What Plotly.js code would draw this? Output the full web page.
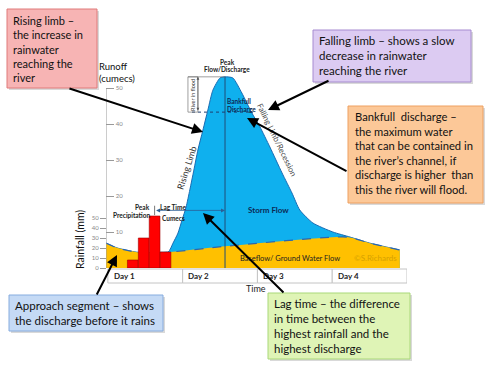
<!DOCTYPE html>
<html><head><meta charset="utf-8">
<script src="https://cdn.plot.ly/plotly-3.0.1.min.js"></script>
<style>html,body{margin:0;padding:0;background:#fff;}#chart{width:500px;height:375px;}</style>
</head><body><div id="chart"></div>
<script>
// ---- data ----
const hydroHours = [-0.6, 2.9, 9.3, 19.3, 20.9, 22.5, 23.8, 25.1, 26.3, 27.6, 28.9, 30.5, 32.1, 33.7, 36.0, 37.6, 40.1, 43.0, 46.2, 48.8, 52.0, 55.9, 59.1, 61.6, 65.8, 72.2, 77.7, 84.1, 93.7];
const discharge  = [6.9, 5.6, 4.4, 4.4, 6.9, 9.7, 13.3, 16.9, 21.7, 27.2, 32.8, 38.3, 43.9, 49.4, 52.8, 53.1, 52.8, 48.6, 43.1, 39.2, 33.6, 26.4, 20.8, 16.1, 12.5, 10.0, 8.6, 6.9, 5.0];
const baseHours  = [-0.6, 2.9, 9.3, 19.3, 38.5, 76.7, 84.1, 93.7];
const baseflow   = [6.9, 5.6, 4.4, 4.4, 6.1, 8.6, 6.9, 5.0];
const rainHours  = [8.0, 11.5, 15.0, 18.5];
const rainfall   = [8, 30, 52, 16];
const runoffTicks = [10, 20, 30, 40, 50];
const rainTicks   = [0, 10, 20, 30, 40, 50];
const dayLabels   = ['Day 1', 'Day 2', 'Day 3', 'Day 4'];
const dayStarts   = [0, 24, 48, 72, 96];
const bankfull    = 43.3;
const lagLevel    = 16;

// ---- helpers ----
const F = 'Lato, sans-serif';
const L = 106, R = 407, T = 66, B = 268;
const px = X => (X - L) / (R - L);
const py = Y => (B - Y) / (B - T);
const peakIdx = discharge.indexOf(Math.max(...discharge));
const peakHour = hydroHours[peakIdx], peakQ = discharge[peakIdx];
const rainPeakHour = rainHours[rainfall.indexOf(Math.max(...rainfall))];

const shapes = [], annotations = [];
function txt(s, X, Y, o) {
  o = o || {};
  annotations.push(Object.assign({text: s, x: px(X), y: py(Y), xref: 'paper', yref: 'paper',
    showarrow: false, xanchor: 'center', yanchor: 'middle',
    font: {family: F, size: o.size || 7, color: o.color || '#222', weight: o.weight || 'normal'}}, o.extra || {}));
}
function box(x0, y0, x1, y1, fill, border, lines, tx, ty, size) {
  shapes.push({type: 'rect', xref: 'paper', yref: 'paper', x0: px(x0 + 2), x1: px(x1 + 2), y0: py(y1 + 2), y1: py(y0 + 2),
    fillcolor: 'rgba(0,0,0,0.15)', line: {width: 0}});
  shapes.push({type: 'rect', xref: 'paper', yref: 'paper', x0: px(x0), x1: px(x1), y0: py(y1), y1: py(y0),
    fillcolor: fill, line: {color: border, width: 1}});
  txt(lines.join('<br>'), tx, ty, {size: size, color: '#111', extra: {xanchor: 'left', yanchor: 'top', align: 'left', borderpad: 0}});
}
function arrow(tx, ty, fx, fy) {
  annotations.push({text: '', x: px(tx), y: py(ty), xref: 'paper', yref: 'paper', showarrow: true,
    ax: fx - tx, ay: fy - ty, arrowhead: 2, arrowsize: 1.1, arrowwidth: 2, arrowcolor: '#000'});
}

// ---- chart marks ----
const traces = [
  {x: hydroHours, y: discharge, type: 'scatter', mode: 'lines', fill: 'tozeroy', fillcolor: '#0fb0ee',
   line: {color: '#1a6cb3', width: 1, shape: 'spline', smoothing: 0.6}, hoverinfo: 'skip'},
  {x: baseHours, y: baseflow, type: 'scatter', mode: 'lines', fill: 'tozeroy', fillcolor: '#ffc000',
   line: {color: '#2a66b0', width: 1.2, dash: 'dash', shape: 'spline', smoothing: 0.6}, hoverinfo: 'skip'},
  {x: rainHours, y: rainfall, type: 'bar', yaxis: 'y2', width: 3.45,
   marker: {color: '#ff0000', line: {color: '#a00000', width: 0.6}}, hoverinfo: 'skip'}
];

// runoff axis line
shapes.push({type: 'line', xref: 'x', yref: 'y', x0: -0.6, x1: -0.6, y0: 0, y1: 50, line: {color: '#999', width: 1}});
// peak vertical line
shapes.push({type: 'line', xref: 'x', yref: 'y', x0: peakHour, x1: peakHour, y0: 0, y1: peakQ, line: {color: '#1f4e79', width: 1}});
// bankfull dashed line
shapes.push({type: 'line', xref: 'x', yref: 'y', x0: 27.0, x1: 46.6, y0: bankfull, y1: bankfull, line: {color: '#1f3f6f', width: 1, dash: 'dot'}});
// river in flood bracket
shapes.push({type: 'rect', xref: 'x', yref: 'y', x0: 25.7, x1: 28.9, y0: bankfull, y1: peakQ, line: {color: '#777', width: 0.7}});
shapes.push({type: 'line', xref: 'x', yref: 'y', x0: 25.7, x1: peakHour, y0: peakQ, y1: peakQ, line: {color: '#777', width: 0.7}});
// lag time start tick
shapes.push({type: 'line', xref: 'x', yref: 'y', x0: rainPeakHour, x1: rainPeakHour, y0: lagLevel - 1.3, y1: lagLevel + 1.3, line: {color: '#555', width: 0.8}});
// day boxes
for (let i = 0; i < dayLabels.length; i++) {
  shapes.push({type: 'rect', xref: 'x', yref: 'paper', x0: dayStarts[i], x1: dayStarts[i + 1], y0: py(283), y1: py(269),
    fillcolor: '#fff', line: {color: '#c4c4c4', width: 1}});
  annotations.push({text: dayLabels[i], x: dayStarts[i] + 1.2, y: py(276), xref: 'x', yref: 'paper', showarrow: false,
    xanchor: 'left', yanchor: 'middle', font: {family: F, size: 8, color: '#222', weight: 'bold'}});
}

// lag time double arrow
annotations.push({text: '', x: peakHour, y: lagLevel, xref: 'x', yref: 'y', ax: rainPeakHour, ay: lagLevel, axref: 'x', ayref: 'y',
  showarrow: true, arrowside: 'end+start', arrowhead: 2, arrowsize: 1, arrowwidth: 0.8, arrowcolor: '#2b5f97'});
// river in flood double arrow
annotations.push({text: '', x: 28.9, y: peakQ, xref: 'x', yref: 'y', ax: 28.9, ay: bankfull, axref: 'x', ayref: 'y',
  showarrow: true, arrowside: 'end+start', arrowhead: 2, arrowsize: 0.8, arrowwidth: 0.7, arrowcolor: '#555'});

// labels inside chart
txt('Peak', 227, 62, {size: 6.5, weight: 'bold'});
txt('Flow/Discharge', 227, 69, {size: 6.5, weight: 'bold'});
txt('Bankfull', 239, 101, {size: 6.5, color: '#0d2a55', weight: 'bold'});
txt('Discharge', 241, 109, {size: 6.5, color: '#0d2a55', weight: 'bold'});
txt('River in flood', 193, 95, {size: 5.5, color: '#333', extra: {textangle: -90}});
txt('Rising Limb', 186, 168, {size: 9, color: '#333', extra: {textangle: -72}});
txt('Falling Limb/Recession', 277, 140, {size: 8, color: '#444', extra: {textangle: 64}});
txt('Storm Flow', 268, 210, {size: 8, color: '#0d2a55', weight: 'bold'});
txt('Baseflow/ Ground Water Flow', 290, 258, {size: 7.5, color: '#222'});
txt('©S.Richards', 375, 258, {size: 8, color: '#d6a100'});
txt('Peak', 142, 207, {size: 6.5, weight: 'bold'});
txt('Precipitation', 131, 215, {size: 6.5, weight: 'bold'});
txt('Lag Time', 173, 207, {size: 6.5, weight: 'bold'});
txt('Cumecs', 173, 218, {size: 6.5, weight: 'bold'});
txt('Runoff<br>(cumecs)', 98, 72, {size: 9.5, color: '#111', extra: {xanchor: 'left', align: 'left', borderpad: 0}});
txt('Rainfall (mm)', 80, 240, {size: 10.5, color: '#111', extra: {textangle: -90}});
txt('Time', 256, 288, {size: 9, color: '#222'});

// text boxes
box(7, 9, 97, 88, '#f7b4b4', '#e07b7b', ['Rising limb –', 'the increase in', 'rainwater', 'reaching the', 'river'], 12, 13, 11);
box(313, 30, 471, 82, '#dccbf2', '#a68bd0', ['Falling limb – shows a slow', 'decrease in rainwater', 'reaching the river'], 318, 33, 11.5);
box(348, 106, 483, 203, '#fcc898', '#eea060', ['Bankfull  discharge –', 'the maximum water', 'that can be contained in', 'the river’s channel, if', 'discharge is higher  than', 'this the river will flood.'], 354, 109, 11.2);
box(9, 295, 163, 331, '#c5daf5', '#86acdf', ['Approach segment – shows', 'the discharge before it rains'], 14, 298, 11.5);
box(268, 293, 410, 359, '#dff4b6', '#a9d879', ['Lag time – the difference', 'in time between the', 'highest rainfall and the', 'highest discharge'], 273, 296, 11.5);

// arrows
arrow(203, 132, 68, 88);
arrow(268, 110, 330, 80);
arrow(247, 118, 348, 172);
arrow(203, 213, 285, 294);
arrow(117, 255, 96, 296);

const layout = {
  width: 500, height: 375, autosize: false, showlegend: false,
  paper_bgcolor: '#fff', plot_bgcolor: 'rgba(0,0,0,0)',
  margin: {l: L, r: 500 - R, t: T, b: 375 - B, pad: 0},
  xaxis: {range: [-0.6, 96], showgrid: false, zeroline: false, showticklabels: false, ticks: '', showline: false, fixedrange: true, automargin: false},
  yaxis: {range: [0, (B - T) / 3.6], tickvals: runoffTicks, ticks: 'inside', ticklen: 8, tickcolor: '#999', tickwidth: 1,
    ticklabelposition: 'inside', tickfont: {family: F, size: 6, color: '#888'}, showgrid: false, zeroline: false, showline: false, automargin: false},
  yaxis2: {overlaying: 'y', anchor: 'free', position: 0, side: 'left', range: [0, B - T], tickvals: rainTicks, ticks: 'outside', ticklen: 6,
    tickcolor: '#999', tickfont: {family: F, size: 6, color: '#888'}, showgrid: false, zeroline: false, showline: false, automargin: false},
  bargap: 0, shapes: shapes, annotations: annotations
};
Plotly.newPlot('chart', traces, layout, {staticPlot: true, displayModeBar: false});
</script></body></html>
